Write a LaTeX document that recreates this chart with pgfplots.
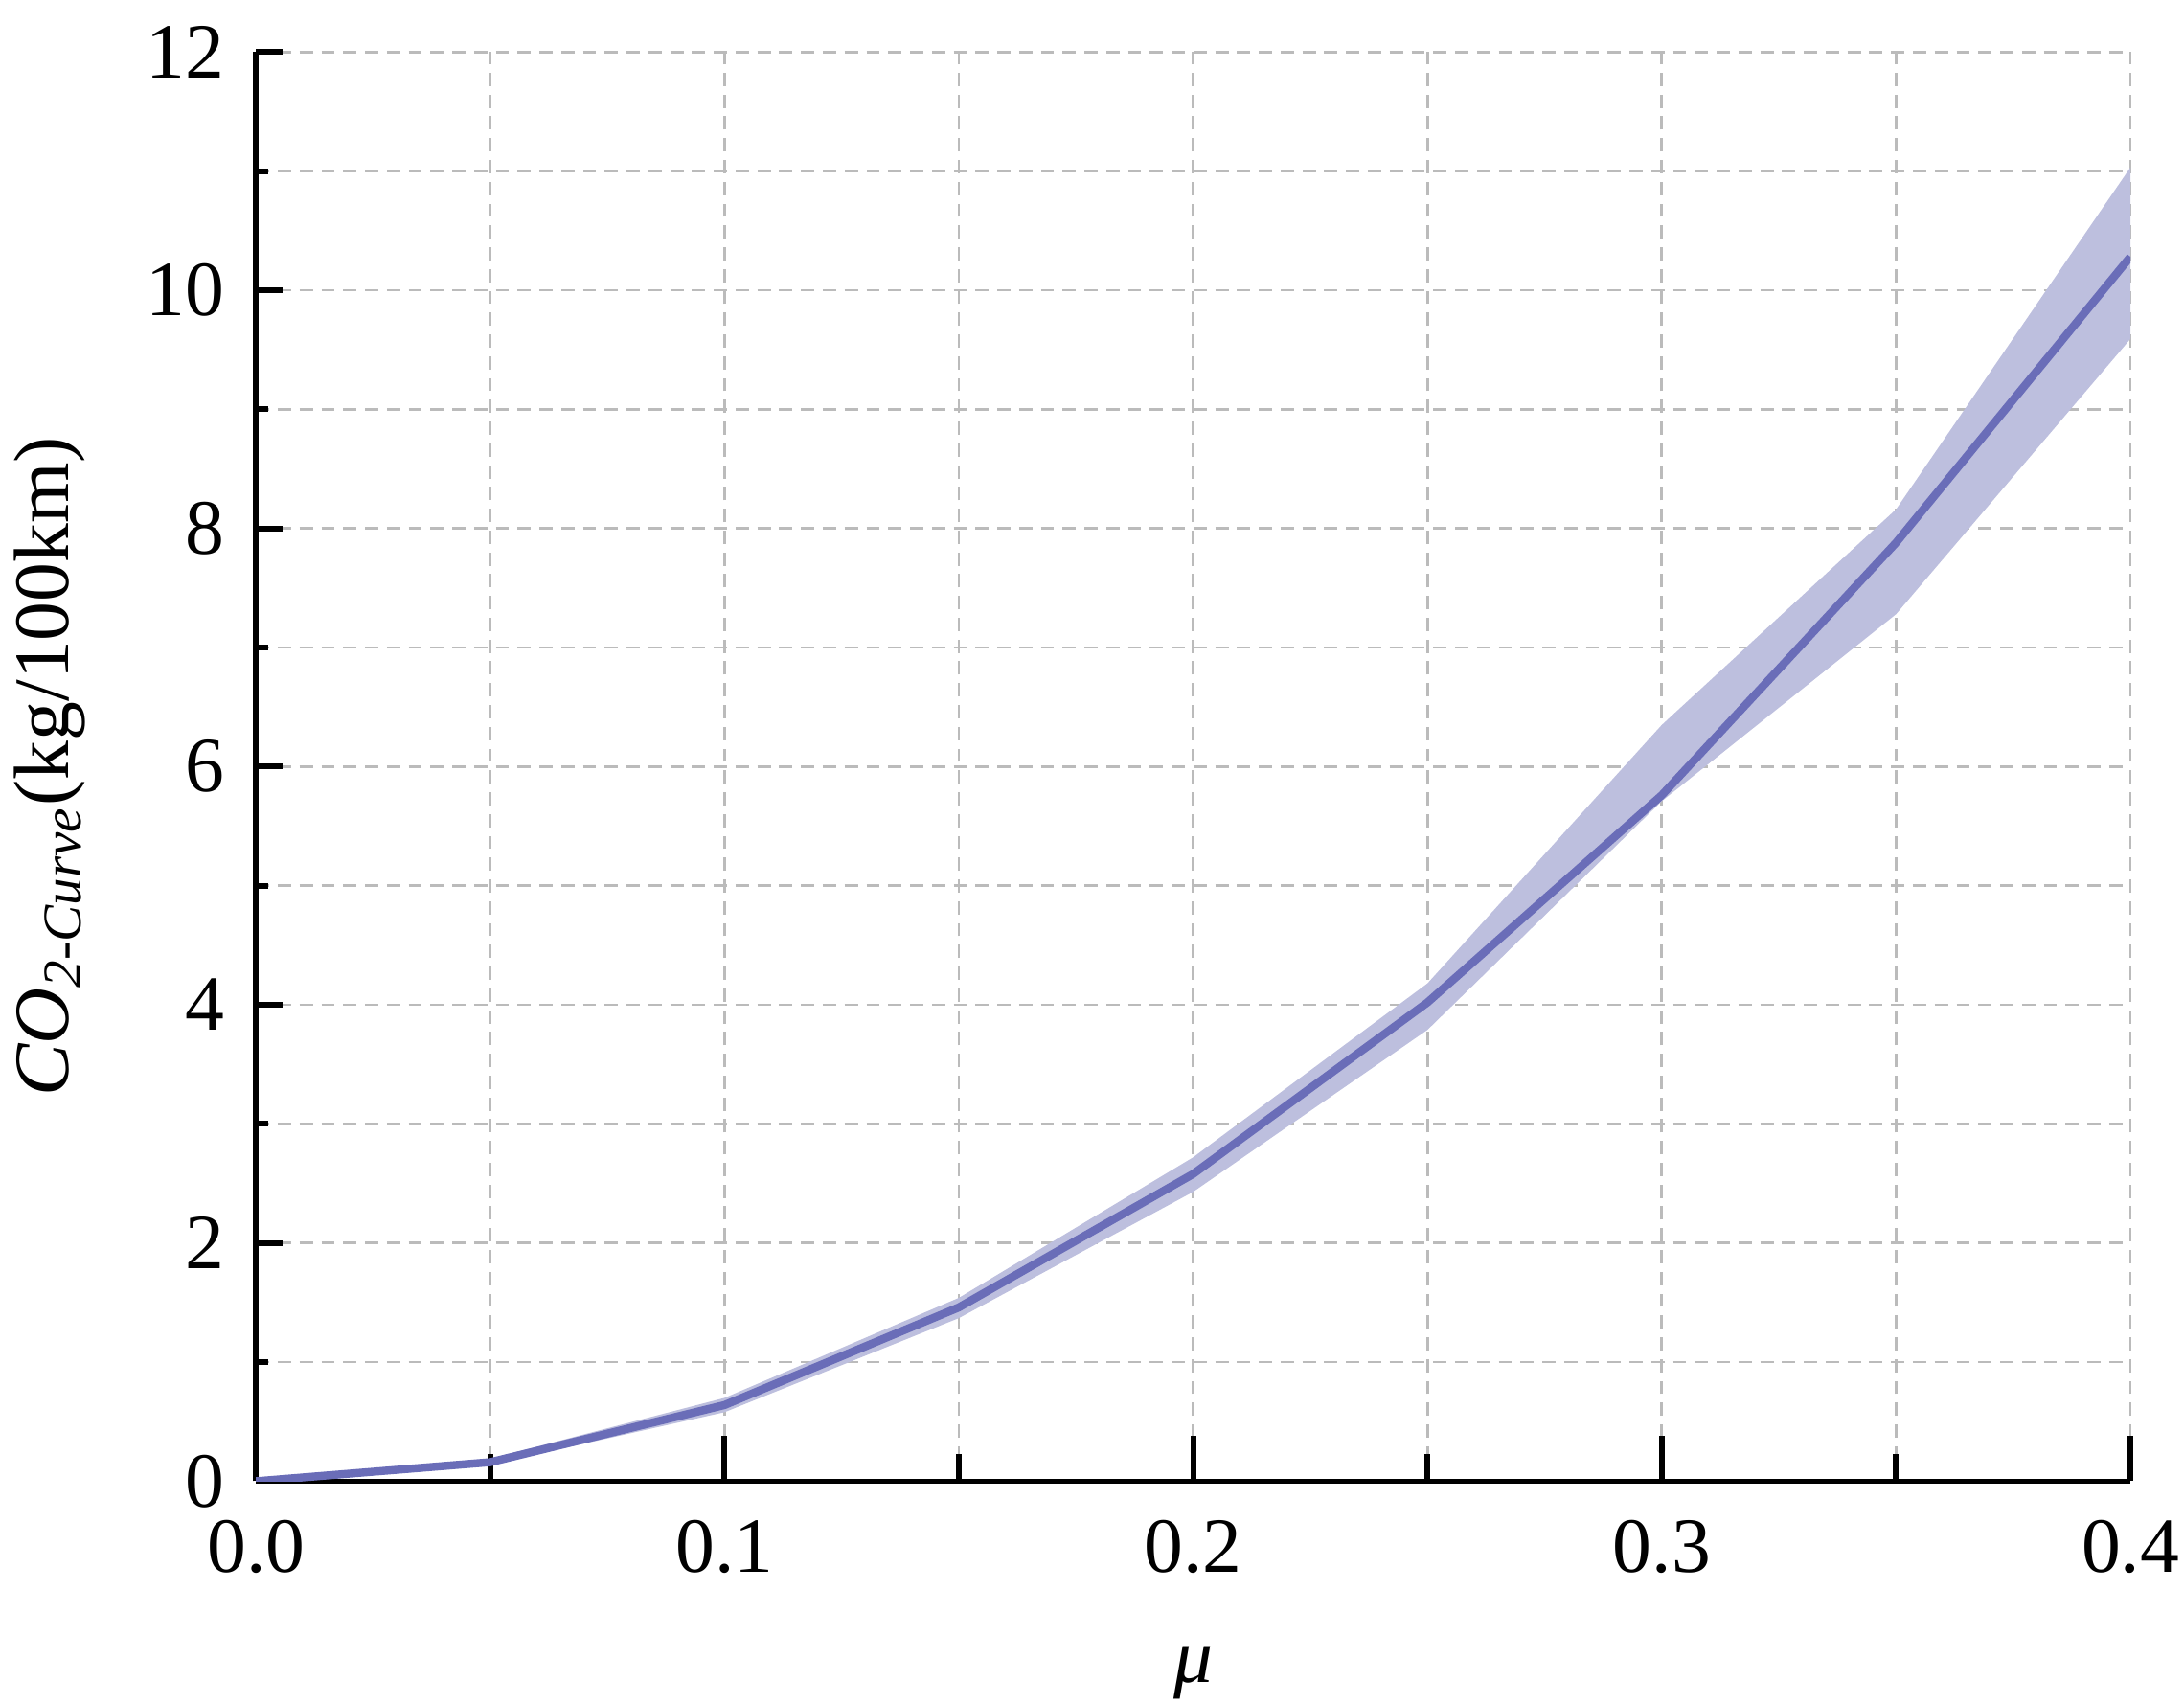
\documentclass[border=0pt]{standalone}
\usepackage{pgfplots}
\usepackage{pgfplotstable}
\pgfplotsset{compat=1.18}
\usepgfplotslibrary{fillbetween}
\usepackage{fontspec}
\setmainfont{Liberation Serif}

\definecolor{meanline}{HTML}{6A6DB8}
\definecolor{bandfill}{HTML}{BDBFDE}
\definecolor{gridgray}{HTML}{BBBBBB}

% mu, mean, lower and upper bound
\pgfplotstableread{
x     mean   lo     hi
0.00  0.00   0.00   0.00
0.05  0.16   0.14   0.19
0.10  0.64   0.58   0.70
0.15  1.46   1.37   1.54
0.20  2.58   2.43   2.72
0.25  4.02   3.79   4.18
0.30  5.76   5.71   6.35
0.35  7.88   7.28   8.16
0.40  10.28  9.59   11.03
}\codata

\begin{document}
\fontsize{16.5}{19}\selectfont
\begin{tikzpicture}
\begin{axis}[
    scale only axis,
    width=13.9cm, height=10.6cm,
    xmin=0, xmax=0.4, ymin=0, ymax=12,
    axis x line*=bottom, axis y line*=left,
    axis line style={-, line width=1.2pt},
    xtick={0,0.1,...,0.41}, ytick={0,2,...,12},
    minor x tick num=1, minor y tick num=1,
    tick align=inside,
    tick style={black, line width=1.2pt},
    x tick style={/pgfplots/major tick length=0.34cm, /pgfplots/minor tick length=0.2cm},
    y tick style={/pgfplots/major tick length=0.2cm, /pgfplots/minor tick length=0.09cm},
    grid=both,
    major grid style={gridgray, line width=0.55pt, dash pattern=on 2.8pt off 1.8pt},
    minor grid style={gridgray, line width=0.55pt, dash pattern=on 2.8pt off 1.8pt},
    /pgf/number format/assume math mode=true,
    xticklabel style={/pgf/number format/fixed, /pgf/number format/fixed zerofill, /pgf/number format/precision=1, inner sep=1pt, yshift=-7pt},
    yticklabel style={xshift=-1pt},
    xlabel={\itshape μ},
    xlabel style={at={(axis description cs:0.5,-0.134)}, anchor=center, inner sep=1pt},
    ylabel={{\itshape CO\textsubscript{2-Curve}}(kg/100km)},
    ylabel style={at={(axis description cs:-0.11,0.5)}, anchor=center, inner sep=3pt},
]
\addplot[name path=upper, draw=none, forget plot] table[x=x, y=hi] {\codata};
\addplot[name path=lower, draw=none, forget plot] table[x=x, y=lo] {\codata};
\addplot[bandfill, draw=none, forget plot] fill between[of=upper and lower];
\addplot[meanline, line width=1.7pt, no marks] table[x=x, y=mean] {\codata};
\end{axis}
\end{tikzpicture}
\end{document}
